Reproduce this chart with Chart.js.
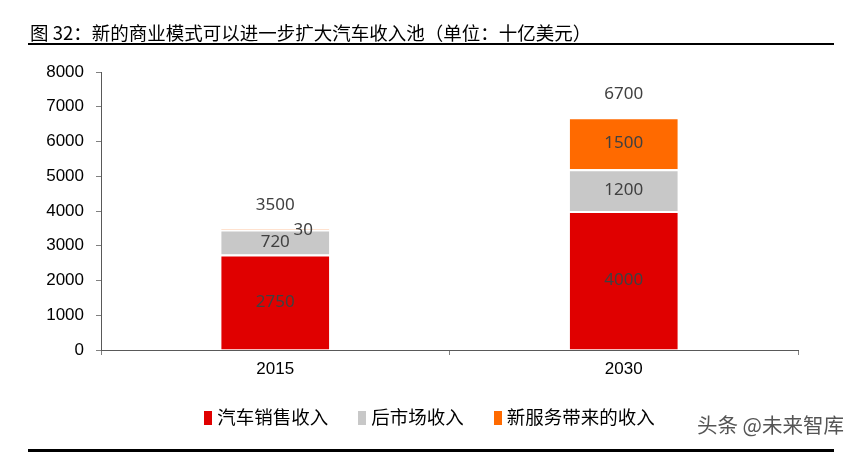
<!DOCTYPE html>
<html>
<head>
<meta charset="utf-8">
<script src="https://cdn.jsdelivr.net/npm/chart.js@4"></script>
<style>
  body { margin: 0; background: #fff; }
  #lienzo { position: relative; width: 859px; height: 453px; overflow: hidden; font-family: "Noto Sans CJK SC", sans-serif; }
  #lienzo canvas { position: absolute; left: 0; top: 0; }
  .titulo { position: absolute; left: 30px; top: 19px; font-size: 18.5px; color: #000; white-space: nowrap; }
  .linea-top { position: absolute; left: 28px; top: 43px; width: 806px; height: 2px; background: #000; }
  .linea-bot { position: absolute; left: 28px; top: 449px; width: 806px; height: 3px; background: #000; }
  .leyenda { position: absolute; left: 0; width: 859px; top: 403px; display: flex; justify-content: center; gap: 30px; font-size: 18.5px; color: #000; }
  .leyenda span.cuadro { display: inline-block; width: 8px; height: 14px; margin-right: 5px; vertical-align: -1px; }
  .marca { position: absolute; left: 697px; top: 409px; font-size: 20.5px; color: #555; white-space: nowrap; }
</style>
</head>
<body>
<div id="lienzo">
  <canvas id="graficaIngresos" width="859" height="453"></canvas>
  <div class="titulo">图 32：新的商业模式可以进一步扩大汽车收入池（单位：十亿美元）</div>
  <div class="linea-top"></div>
  <div class="leyenda" id="leyenda"></div>
  <div class="marca">头条 @未来智库</div>
  <div class="linea-bot"></div>
</div>
<script>
// datos
const anios = ['2015', '2030'];
const ventaAutos = [2750, 4000];
const posventa = [720, 1200];
const nuevosServicios = [30, 1500];
const totales = [3500, 6700];
const nombresSeries = ['汽车销售收入', '后市场收入', '新服务带来的收入'];
const colores = ['#E00000', '#C8C8C8', '#FF6A00'];
const ticksY = [0, 1000, 2000, 3000, 4000, 5000, 6000, 7000, 8000];

/* LEYENDA */
let leyenda = document.querySelector('#leyenda');
nombresSeries.forEach((nombre, i) => {
    let item = document.createElement('div');
    let cuadro = document.createElement('span');
    cuadro.className = "cuadro";
    cuadro.style.background = colores[i];
    item.appendChild(cuadro);
    item.appendChild(document.createTextNode(nombre));
    leyenda.appendChild(item);
});

/* ETIQUETAS */
const etiquetas = {
    id: 'etiquetas',
    afterDatasetsDraw(chart) {
        const ctx = chart.ctx;
        ctx.save();
        ctx.font = '17px "Noto Sans", sans-serif';
        ctx.fillStyle = '#404040';
        ctx.textAlign = 'center';
        ctx.textBaseline = 'middle';
        chart.data.datasets.forEach((ds, d) => {
            chart.getDatasetMeta(d).data.forEach((bar, i) => {
                const alto = bar.base - bar.y;
                if (alto < 10) {
                    ctx.fillText(ds.data[i], bar.x + 28, bar.y + 2);
                } else {
                    ctx.fillText(ds.data[i], bar.x, (bar.y + bar.base) / 2);
                }
            });
        });
        const ultima = chart.getDatasetMeta(chart.data.datasets.length - 1);
        ultima.data.forEach((bar, i) => {
            ctx.fillText(totales[i], bar.x, bar.y - 23);
        });
        ctx.restore();
    }
};

const series = [ventaAutos, posventa, nuevosServicios];

new Chart(document.getElementById('graficaIngresos').getContext('2d'), {
    type: 'bar',
    data: {
        labels: anios,
        datasets: series.map((valores, i) => ({
            label: nombresSeries[i],
            data: valores,
            backgroundColor: colores[i],
            borderColor: '#ffffff',
            borderWidth: { top: 2, bottom: 0, left: 0, right: 0 },
            borderSkipped: false,
            categoryPercentage: 1,
            barPercentage: 0.31
        }))
    },
    options: {
        responsive: false,
        animation: false,
        layout: { padding: { top: 72, left: 0, right: 61, bottom: 63 } },
        plugins: { legend: { display: false }, tooltip: { enabled: false } },
        scales: {
            x: {
                stacked: true,
                afterFit: (escala) => { escala.height = 40; },
                grid: { display: true, drawOnChartArea: false, offset: true, color: '#808080', tickLength: 5 },
                border: { color: '#595959', width: 1 },
                ticks: { color: '#000', font: { family: 'Liberation Sans', size: 17 }, padding: 4 }
            },
            y: {
                stacked: true,
                min: 0,
                max: 8000,
                afterFit: (escala) => { escala.width = 101; },
                afterBuildTicks: (escala) => { escala.ticks = ticksY.map(v => ({ value: v })); },
                grid: { display: true, drawOnChartArea: false, color: '#808080', tickLength: 5 },
                border: { color: '#595959', width: 1 },
                ticks: {
                    color: '#000',
                    font: { family: 'Liberation Sans', size: 17 },
                    padding: 12,
                    callback: (valor) => String(valor)
                }
            }
        }
    },
    plugins: [etiquetas]
});
</script>
</body>
</html>
